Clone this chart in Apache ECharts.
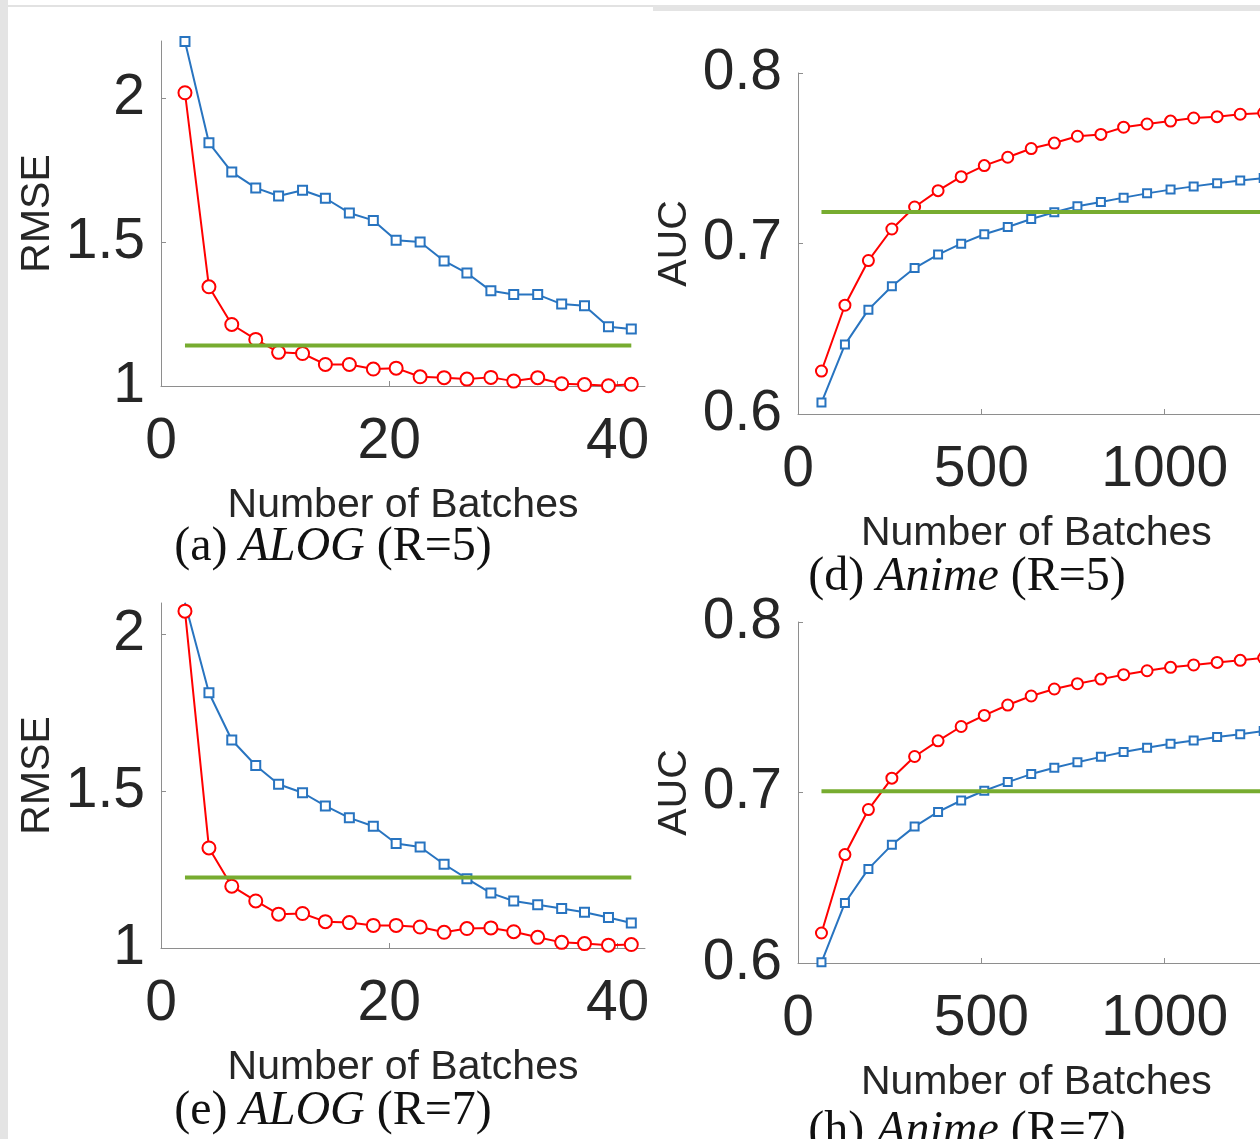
<!DOCTYPE html>
<html>
<head>
<meta charset="utf-8">
<script src="https://cdn.jsdelivr.net/npm/echarts@6/dist/echarts.min.js"></script>
<style>
  html, body { margin: 0; padding: 0; background: #ffffff; }
  #chart { width: 1260px; height: 1139px; }
</style>
</head>
<body>
<div id="chart"></div>
<script>
// ---- data ----
const alogX = [2.1, 4.2, 6.2, 8.3, 10.3, 12.4, 14.4, 16.5, 18.6, 20.6, 22.7, 24.8, 26.8, 28.9, 30.9, 33.0, 35.1, 37.1, 39.2, 41.2];
const animeX = [64, 128, 192, 256, 318, 382, 445, 508, 572, 636, 699, 762, 826, 888, 952, 1016, 1079, 1143, 1206, 1270];

// (a) ALOG R=5
const aRed  = [2.020, 1.345, 1.214, 1.162, 1.117, 1.113, 1.075, 1.075, 1.059, 1.062, 1.032, 1.029, 1.024, 1.030, 1.017, 1.029, 1.008, 1.005, 1.001, 1.006];
const aBlue = [2.198, 1.846, 1.744, 1.689, 1.661, 1.681, 1.653, 1.602, 1.576, 1.507, 1.501, 1.435, 1.393, 1.331, 1.318, 1.318, 1.285, 1.279, 1.206, 1.198];
const aGreen = 1.141;

// (e) ALOG R=7
const eRed  = [2.074, 1.319, 1.197, 1.150, 1.108, 1.110, 1.084, 1.081, 1.072, 1.072, 1.067, 1.050, 1.062, 1.064, 1.052, 1.034, 1.018, 1.014, 1.009, 1.011];
const eBlue = [2.101, 1.814, 1.663, 1.582, 1.522, 1.495, 1.453, 1.415, 1.388, 1.333, 1.322, 1.267, 1.221, 1.175, 1.150, 1.138, 1.126, 1.114, 1.097, 1.080];
const eGreen = 1.225;

// (d) Anime R=5
const dRed  = [0.6252, 0.6638, 0.6900, 0.7085, 0.7214, 0.7310, 0.7392, 0.7457, 0.7506, 0.7557, 0.7589, 0.7629, 0.7640, 0.7682, 0.7701, 0.7718, 0.7736, 0.7744, 0.7758, 0.7765];
const dBlue = [0.6067, 0.6407, 0.6612, 0.6749, 0.6856, 0.6935, 0.6999, 0.7054, 0.7097, 0.7144, 0.7183, 0.7218, 0.7243, 0.7269, 0.7294, 0.7316, 0.7335, 0.7353, 0.7369, 0.7384];
const dGreen = 0.7185;

// (h) Anime R=7
const hRed  = [0.6176, 0.6636, 0.6900, 0.7084, 0.7211, 0.7303, 0.7387, 0.7452, 0.7513, 0.7566, 0.7607, 0.7638, 0.7665, 0.7691, 0.7714, 0.7734, 0.7748, 0.7763, 0.7775, 0.7789];
const hBlue = [0.6004, 0.6352, 0.6552, 0.6693, 0.6800, 0.6886, 0.6953, 0.7010, 0.7061, 0.7108, 0.7145, 0.7178, 0.7209, 0.7237, 0.7262, 0.7286, 0.7305, 0.7325, 0.7342, 0.7360];
const hGreen = 0.7008;

const alogXTicks = [0, 20, 40];
const animeXTicks = [0, 500, 1000];
const rmseTicks = [1, 1.5, 2];
const aucTicks = [0.6, 0.7, 0.8];

const xName = 'Number of Batches';
const captions = ['(a) {i|ALOG} (R=5)', '(d) {i|Anime} (R=5)', '(e) {i|ALOG} (R=7)', '(h) {i|Anime} (R=7)'];

// ---- styling ----
const SANS = '"Liberation Sans", Arial, Helvetica, sans-serif';
const SERIF = '"Liberation Serif", "Times New Roman", serif';
const TXT = '#262626';
const AX = '#8e8e8e';
const RED = '#ff0000';
const BLUE = '#2874c0';
const GREEN = '#77ac30';

const grids = [
  { left: 161, top: 41, width: 484, height: 345 },
  { left: 798, top: 73, width: 476.7, height: 341 },
  { left: 161, top: 603, width: 484, height: 345 },
  { left: 798, top: 622, width: 476.7, height: 341 }
].map(g => Object.assign({ containLabel: false, outerBoundsMode: 'none' }, g));

const plain = v => String(v);

function xAxisCfg(gi, max, ticks) {
  return {
    type: 'value', gridIndex: gi, min: 0, max: max,
    name: xName, nameLocation: 'middle', nameGap: 99, nameMoveOverlap: false,
    nameTextStyle: { fontFamily: SANS, fontSize: 41, color: TXT, lineHeight: 41 },
    axisLine: { show: true, lineStyle: { color: AX, width: 1 } },
    axisTick: { show: true, inside: true, length: 5, lineStyle: { color: AX }, customValues: ticks },
    axisLabel: { fontFamily: SANS, fontSize: 57, color: TXT, margin: 28, lineHeight: 57, customValues: ticks, formatter: plain },
    splitLine: { show: false }
  };
}
function yAxisCfg(gi, min, max, ticks, name) {
  return {
    type: 'value', gridIndex: gi, min: min, max: max,
    name: name, nameLocation: 'middle', nameGap: 103, nameMoveOverlap: false,
    nameTextStyle: { fontFamily: SANS, fontSize: 41, color: TXT, lineHeight: 41 },
    axisLine: { show: true, lineStyle: { color: AX, width: 1 } },
    axisTick: { show: true, inside: true, length: 5, lineStyle: { color: AX }, customValues: ticks },
    axisLabel: { fontFamily: SANS, fontSize: 57, color: TXT, margin: 16, lineHeight: 57, padding: [6, 0, 0, 0], customValues: ticks, formatter: plain },
    splitLine: { show: false }
  };
}

function pairs(xs, ys) { return xs.map((x, i) => [x, ys[i]]); }

function panelSeries(idx, xs, red, blue, green, redSize, blueSize) {
  return [
    {
      type: 'line', xAxisIndex: idx, yAxisIndex: idx, data: pairs(xs, blue),
      symbol: 'emptyRect', symbolSize: blueSize, showAllSymbol: true,
      lineStyle: { color: BLUE, width: 2 },
      itemStyle: { color: BLUE, borderColor: BLUE, borderWidth: 2 }, z: 3
    },
    {
      type: 'line', xAxisIndex: idx, yAxisIndex: idx, data: pairs(xs, red),
      symbol: 'emptyCircle', symbolSize: redSize, showAllSymbol: true,
      lineStyle: { color: RED, width: 2 },
      itemStyle: { color: RED, borderColor: RED, borderWidth: 2 }, z: 4
    },
    {
      type: 'line', xAxisIndex: idx, yAxisIndex: idx,
      data: [[xs[0], green], [xs[xs.length - 1], green]],
      symbol: 'none', lineStyle: { color: GREEN, width: 4 }, z: 5
    }
  ];
}

const capPos = [[333, 547], [967, 577], [333, 1111], [967, 1131]];

const option = {
  animation: false,
  backgroundColor: '#ffffff',
  grid: grids,
  xAxis: [xAxisCfg(0, 42.4, alogXTicks), xAxisCfg(1, 1300, animeXTicks), xAxisCfg(2, 42.4, alogXTicks), xAxisCfg(3, 1300, animeXTicks)],
  yAxis: [yAxisCfg(0, 1, 2.2, rmseTicks, 'RMSE'), yAxisCfg(1, 0.6, 0.8, aucTicks, 'AUC'), yAxisCfg(2, 1, 2.1, rmseTicks, 'RMSE'), yAxisCfg(3, 0.6, 0.8, aucTicks, 'AUC')],
  series: [].concat(
    panelSeries(0, alogX, aRed, aBlue, aGreen, 13, 9),
    panelSeries(1, animeX, dRed, dBlue, dGreen, 11, 8),
    panelSeries(2, alogX, eRed, eBlue, eGreen, 13, 9),
    panelSeries(3, animeX, hRed, hBlue, hGreen, 11, 8)
  ),
  graphic: [
    { type: 'rect', left: 0, top: 0, z: -10, shape: { width: 8, height: 1139 }, style: { fill: '#e4e4e4' } },
    { type: 'rect', left: 8, top: 5, z: -10, shape: { width: 645, height: 2 }, style: { fill: '#e2e2e2' } },
    { type: 'rect', left: 653, top: 5, z: -10, shape: { width: 607, height: 6 }, style: { fill: '#e4e4e4' } }
  ].concat(captions.map((c, i) => ({
    type: 'text', x: capPos[i][0], y: capPos[i][1], z: 10,
    style: {
      text: c, fontFamily: SERIF, fontSize: 48, fill: '#111111',
      textAlign: 'center', textVerticalAlign: 'middle',
      rich: { i: { fontFamily: SERIF, fontSize: 48, fontStyle: 'italic', fill: '#111111' } }
    }
  })))
};

const chart = echarts.init(document.getElementById('chart'), null, { renderer: 'canvas' });
chart.setOption(option);
</script>
</body>
</html>
